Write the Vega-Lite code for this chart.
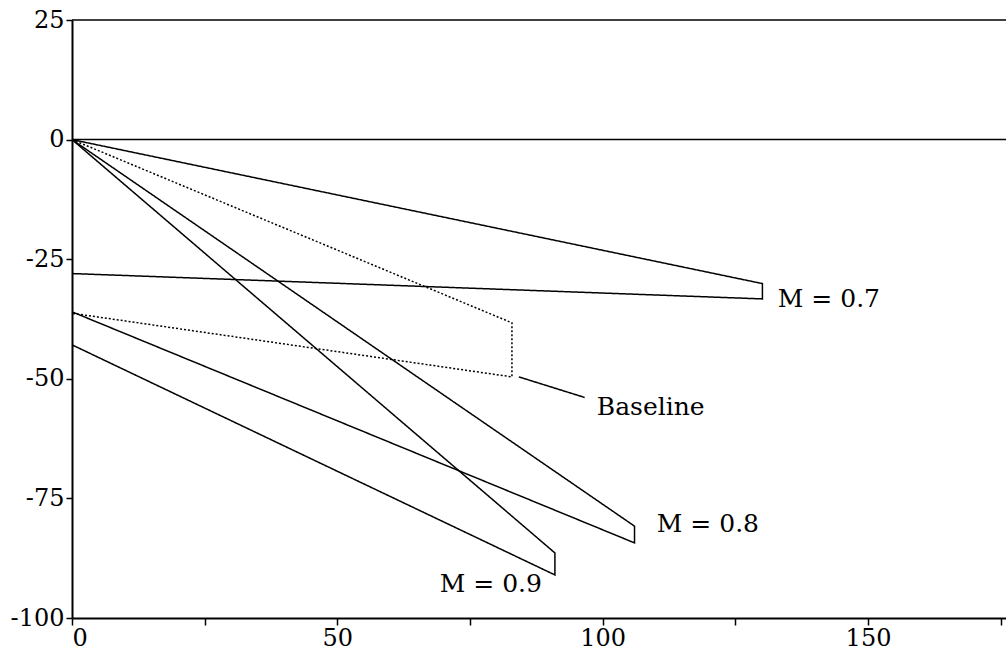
{
  "$schema": "https://vega.github.io/schema/vega-lite/v6.json",
  "width": 934,
  "height": 598,
  "autosize": {"type": "none"},
  "padding": {"left": 72, "top": 20, "right": 0, "bottom": 39},
  "background": "white",
  "config": {
    "view": {"stroke": null},
    "axis": {
      "labelFont": "DejaVu Serif",
      "labelFontSize": 24,
      "labelColor": "black",
      "domainColor": "black",
      "domainWidth": 2,
      "tickColor": "black",
      "tickWidth": 1.5,
      "grid": false,
      "title": null
    }
  },
  "datasets": {
    "frame": [{"y": 25}, {"y": 0}],
    "curves": [
      {"series": "M07", "style": "solid", "i": 0, "x": 0, "y": 0},
      {"series": "M07", "style": "solid", "i": 1, "x": 130.1, "y": -30.1},
      {"series": "M07", "style": "solid", "i": 2, "x": 130.1, "y": -33.3},
      {"series": "M07", "style": "solid", "i": 3, "x": 0, "y": -28.0},
      {"series": "Base", "style": "dotted", "i": 0, "x": 0, "y": 0},
      {"series": "Base", "style": "dotted", "i": 1, "x": 82.9, "y": -38.3},
      {"series": "Base", "style": "dotted", "i": 2, "x": 82.9, "y": -49.6},
      {"series": "Base", "style": "dotted", "i": 3, "x": 0, "y": -36.3},
      {"series": "M08", "style": "solid", "i": 0, "x": 0, "y": 0},
      {"series": "M08", "style": "solid", "i": 1, "x": 106.0, "y": -80.8},
      {"series": "M08", "style": "solid", "i": 2, "x": 106.0, "y": -84.3},
      {"series": "M08", "style": "solid", "i": 3, "x": 0, "y": -36.0},
      {"series": "M09", "style": "solid", "i": 0, "x": 0, "y": 0},
      {"series": "M09", "style": "solid", "i": 1, "x": 91.0, "y": -86.4},
      {"series": "M09", "style": "solid", "i": 2, "x": 91.0, "y": -91.0},
      {"series": "M09", "style": "solid", "i": 3, "x": 0, "y": -42.9},
      {"series": "Leader", "style": "solid", "i": 0, "x": 84.2, "y": -49.6},
      {"series": "Leader", "style": "solid", "i": 1, "x": 96.6, "y": -53.9}
    ],
    "labels": [
      {"text": "M = 0.7", "x": 133.0, "y": -34.9},
      {"text": "M = 0.8", "x": 110.2, "y": -82.0},
      {"text": "M = 0.9", "x": 69.3, "y": -94.6},
      {"text": "Baseline", "x": 98.9, "y": -57.5}
    ]
  },
  "layer": [
    {
      "data": {"name": "frame"},
      "mark": {"type": "rule", "color": "black", "strokeWidth": 1.5},
      "encoding": {
        "y": {"field": "y", "type": "quantitative", "scale": {"domain": [-100, 25], "nice": false}}
      }
    },
    {
      "data": {"name": "curves"},
      "mark": {"type": "line", "color": "black", "strokeWidth": 1.5},
      "encoding": {
        "x": {
          "field": "x", "type": "quantitative",
          "scale": {"domain": [0, 176], "nice": false},
          "axis": {
            "values": [0, 25, 50, 75, 100, 125, 150, 175],
            "labelExpr": "datum.value % 50 === 0 ? datum.label : ''",
            "tickSize": 7,
            "labelPadding": 1
          }
        },
        "y": {
          "field": "y", "type": "quantitative",
          "scale": {"domain": [-100, 25], "nice": false},
          "axis": {
            "values": [-100, -75, -50, -25, 0, 25],
            "labelExpr": "replace(datum.label, '\u2212', '-')",
            "tickSize": 6,
            "labelPadding": 2
          }
        },
        "detail": {"field": "series"},
        "order": {"field": "i", "type": "quantitative"},
        "strokeDash": {
          "field": "style", "type": "nominal",
          "scale": {"domain": ["solid", "dotted"], "range": [[1, 0], [2, 2]]},
          "legend": null
        }
      }
    },
    {
      "data": {"name": "labels"},
      "mark": {"type": "text", "font": "DejaVu Serif", "fontSize": 25, "align": "left", "baseline": "alphabetic", "color": "black"},
      "encoding": {
        "x": {"field": "x", "type": "quantitative"},
        "y": {"field": "y", "type": "quantitative"},
        "text": {"field": "text"}
      }
    }
  ]
}
